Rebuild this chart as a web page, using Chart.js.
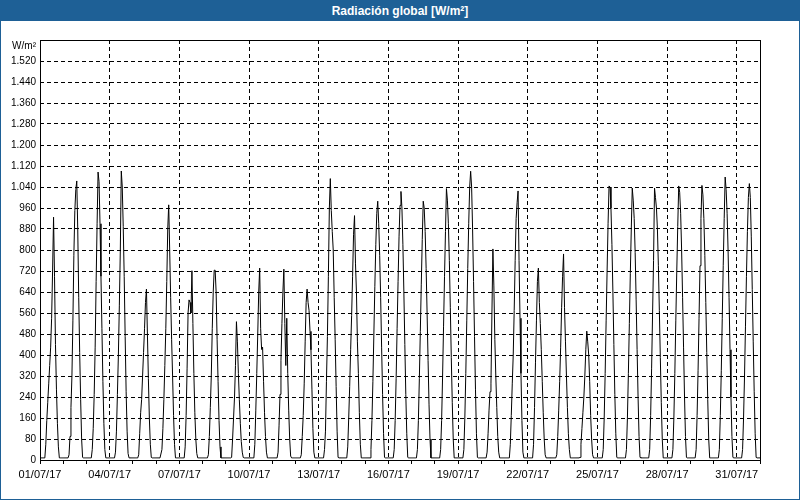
<!DOCTYPE html>
<html>
<head>
<meta charset="utf-8">
<script src="https://cdn.jsdelivr.net/npm/chart.js@4.4.0/dist/chart.umd.min.js"></script>
<style>
  body { margin: 0; background: #fff; }
  #frame { position: relative; width: 800px; height: 500px; box-sizing: border-box; border: 1px solid #1e6096; background: #fff; overflow: hidden; }
  #title { position: absolute; left: 0; top: 0; width: 100%; height: 20px; background: #1e6096; color: #fff;
           font: bold 12px "Liberation Sans", Arial, sans-serif; text-align: center; line-height: 20px; z-index: 2; }
  #chart { position: absolute; left: -1px; top: -1px; }
</style>
</head>
<body>
<div id="frame">
  <div id="title">Radiación global [W/m²]</div>
  <canvas id="chart" width="800" height="500"></canvas>
</div>
<script>
// x labels, one per day (only every third one is shown)
const dayLabels = [
  "01/07/17","02/07/17","03/07/17","04/07/17","05/07/17","06/07/17","07/07/17","08/07/17",
  "09/07/17","10/07/17","11/07/17","12/07/17","13/07/17","14/07/17","15/07/17","16/07/17",
  "17/07/17","18/07/17","19/07/17","20/07/17","21/07/17","22/07/17","23/07/17","24/07/17",
  "25/07/17","26/07/17","27/07/17","28/07/17","29/07/17","30/07/17","31/07/17"
];

// daylight hours; outside these the sensor sits at the night reading
const hours = [6, 7, 8, 9, 10, 11, 12, 13, 14, 15, 16, 17, 18, 19, 20];
const nightReading = 8;

// W/m², one row per day, values for the hours above
const dailyRadiation = [
  [60, 150, 220, 290, 360, 430, 540, 720, 925, 700, 440, 270, 140, 50, 8],
  [20, 90, 200, 320, 530, 780, 950, 1030, 1063, 880, 620, 410, 230, 80, 10],
  [40, 120, 250, 430, 680, 900, 1097, 1060, 900, 700, 500, 300, 140, 40, 8],
  [30, 110, 250, 400, 590, 800, 1101, 1040, 890, 700, 470, 260, 110, 25, 8],
  [20, 100, 180, 230, 320, 410, 500, 600, 651, 480, 310, 160, 60, 10, 8],
  [40, 120, 230, 360, 500, 680, 880, 972, 800, 620, 460, 320, 170, 60, 8],
  [50, 170, 350, 560, 610, 600, 560, 721, 520, 330, 180, 80, 25, 8, 8],
  [20, 90, 200, 320, 500, 640, 723, 723, 640, 460, 300, 150, 50, 8, 8],
  [10, 80, 160, 240, 360, 527, 450, 330, 230, 140, 70, 30, 10, 8, 8],
  [60, 190, 330, 480, 640, 731, 500, 421, 430, 300, 180, 90, 30, 8, 8],
  [30, 130, 250, 380, 520, 640, 727, 520, 360, 540, 330, 190, 80, 15, 8],
  [20, 90, 170, 290, 450, 600, 651, 600, 570, 490, 420, 270, 120, 30, 8],
  [40, 110, 300, 470, 700, 960, 1072, 950, 870, 800, 620, 460, 280, 110, 10],
  [50, 160, 280, 420, 550, 700, 860, 931, 750, 640, 450, 330, 180, 60, 8],
  [40, 150, 300, 480, 660, 820, 940, 986, 900, 780, 620, 430, 250, 100, 10],
  [40, 150, 310, 500, 680, 850, 970, 1023, 960, 820, 640, 440, 250, 100, 10],
  [40, 150, 310, 490, 670, 840, 986, 960, 870, 730, 560, 380, 210, 80, 8],
  [40, 150, 320, 510, 700, 870, 1034, 990, 900, 760, 580, 390, 220, 80, 8],
  [40, 160, 330, 530, 730, 900, 1040, 1100, 1040, 880, 680, 470, 270, 100, 10],
  [30, 100, 190, 260, 290, 560, 804, 663, 460, 320, 200, 90, 30, 8, 8],
  [60, 170, 290, 400, 570, 760, 920, 980, 1025, 760, 540, 330, 150, 30, 8],
  [60, 200, 370, 530, 680, 731, 600, 520, 420, 300, 180, 80, 20, 8, 8],
  [20, 90, 190, 300, 430, 580, 700, 785, 580, 450, 320, 200, 100, 40, 8],
  [10, 60, 120, 180, 240, 320, 420, 491, 450, 400, 300, 170, 80, 20, 8],
  [40, 160, 330, 530, 720, 900, 1044, 1040, 960, 820, 640, 440, 250, 100, 10],
  [40, 160, 330, 520, 710, 880, 1036, 990, 920, 790, 610, 420, 240, 90, 10],
  [40, 170, 350, 560, 760, 1036, 1000, 960, 880, 740, 570, 390, 220, 80, 8],
  [40, 160, 330, 530, 720, 890, 1044, 1020, 940, 800, 620, 430, 240, 90, 10],
  [40, 170, 340, 540, 740, 920, 1046, 1010, 920, 780, 600, 410, 230, 80, 8],
  [40, 170, 340, 540, 740, 920, 1078, 1030, 940, 800, 620, 420, 240, 90, 10],
  [40, 160, 320, 510, 700, 870, 1000, 1053, 1000, 850, 650, 450, 260, 100, 10]
];

const yMax = 1600;
const yStep = 80;

// flatten into hourly points, x = hours since 01/07 00:00
const points = [];
dailyRadiation.forEach((vals, d) => {
  for (let h = 0; h < 24; h++) {
    const i = h - hours[0];
    points.push({ x: d * 24 + h, y: (i >= 0 && i < vals.length) ? vals[i] : nightReading });
  }
});
points.push({ x: dailyRadiation.length * 24, y: nightReading });

const totalHours = dayLabels.length * 24;

function fmtThousands(v) {
  if (v >= 1000) return Math.floor(v / 1000) + "." + String(v % 1000).padStart(3, "0");
  return String(v);
}

const frameBox = {
  id: "frameBox",
  afterDatasetsDraw(chart) {
    const { ctx, chartArea: a } = chart;
    ctx.save();
    ctx.strokeStyle = "#000";
    ctx.lineWidth = 1;
    ctx.strokeRect(Math.round(a.left) + 0.5, Math.round(a.top) + 0.5,
                   Math.round(a.right - a.left), Math.round(a.bottom - a.top));
    ctx.fillStyle = "#000";
    ctx.font = '10px "Liberation Sans", Arial, sans-serif';
    ctx.textAlign = "right";
    ctx.textBaseline = "middle";
    ctx.fillText("W/m²", a.left - 4, a.top + 6);
    ctx.restore();
  }
};

new Chart(document.getElementById("chart"), {
  type: "line",
  data: {
    datasets: [{
      data: points,
      borderColor: "#000",
      borderWidth: 1,
      pointRadius: 0,
      tension: 0,
      fill: false
    }]
  },
  options: {
    responsive: false,
    animation: false,
    layout: { padding: { top: 40, right: 40, left: 0, bottom: 0 } },
    plugins: { legend: { display: false }, tooltip: { enabled: false } },
    scales: {
      x: {
        type: "linear",
        min: 0,
        max: totalHours,
        afterFit(s) { s.height = 40; },
        border: { display: false, dash: [4, 3] },
        grid: {
          color: ctx => {
            const v = ctx.tick ? ctx.tick.value : 0;
            return (v % 72 === 0 && v > 0 && v < totalHours) ? "#000" : "rgba(0,0,0,0)";
          },
          tickColor: "#000",
          tickLength: 4,
          lineWidth: 1
        },
        ticks: {
          stepSize: 24,
          autoSkip: false,
          maxRotation: 0,
          padding: 4,
          color: "#000",
          font: { family: '"Liberation Sans", Arial, sans-serif', size: 11 },
          callback: v => (v % 72 === 0 && v < totalHours) ? dayLabels[v / 24] : ""
        }
      },
      y: {
        min: 0,
        max: yMax,
        afterFit(s) { s.width = 40; },
        border: { display: false, dash: [4, 3] },
        grid: {
          color: ctx => {
            const v = ctx.tick ? ctx.tick.value : 0;
            return (v > 0 && v < yMax) ? "#000" : "rgba(0,0,0,0)";
          },
          drawTicks: false,
          lineWidth: 1
        },
        ticks: {
          stepSize: yStep,
          padding: 4,
          color: "#000",
          font: { family: '"Liberation Sans", Arial, sans-serif', size: 10 },
          callback: v => v >= yMax ? "" : fmtThousands(v)
        }
      }
    }
  },
  plugins: [frameBox]
});
</script>
</body>
</html>
